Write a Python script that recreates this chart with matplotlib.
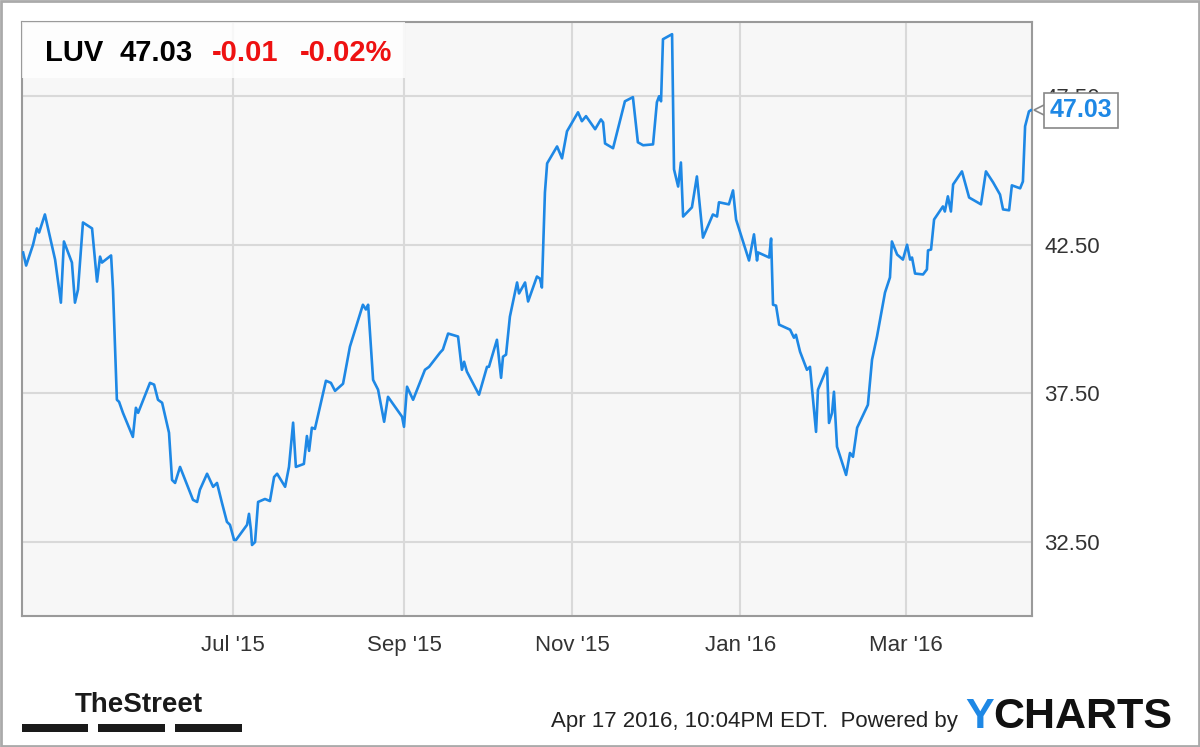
import pandas as pd
import matplotlib
matplotlib.use("Agg")
import matplotlib.pyplot as plt
import matplotlib.dates as mdates
import matplotlib.transforms as mtransforms
from matplotlib.patches import Rectangle

plt.rcParams['font.family'] = ['Liberation Sans', 'DejaVu Sans']

# LUV closing prices, Apr 2015 - Apr 2016
# days = calendar days counted from the start date below
start = pd.Timestamp("2015-04-15 12:00")
days = [
    0.4, 1.5, 4.0, 5.4, 6.2, 8.3, 12.0, 14.1, 15.2, 18.1, 19.2, 20.3, 22.1, 25.4,
    27.2, 28.3, 29.0, 32.3, 33.0, 34.4, 35.2, 36.6, 40.2, 41.3, 42.1, 46.4, 47.9,
    49.3, 50.8, 53.3, 54.4, 55.5, 57.3, 62.0, 63.5, 64.5, 67.1, 69.3, 70.7, 72.5,
    74.3, 75.4, 76.9, 77.6, 81.6, 82.3, 83.0, 83.4, 84.5, 85.6, 88.1, 89.9, 91.4,
    92.5, 95.4, 96.8, 98.3, 99.3, 102.2, 103.3, 104.1, 105.1, 106.2, 110.2, 112.0,
    113.5, 116.4, 117.8, 118.9, 123.6, 124.7, 125.5, 127.3, 129.1, 131.3, 132.7,
    137.8, 138.5, 139.6, 141.8, 146.1, 147.6, 151.6, 152.6, 154.5, 158.1, 159.5,
    160.3, 161.3, 165.7, 168.6, 169.3, 172.2, 173.7, 174.4, 175.5, 176.9, 179.5,
    180.2, 182.4, 183.5, 186.7, 187.8, 188.5, 189.6, 190.4, 194.0, 195.8, 197.6,
    201.6, 203.0, 204.5, 207.8, 209.9, 210.7, 211.4, 214.3, 218.6, 221.5, 223.3,
    225.2, 228.8, 230.2, 231.0, 231.7, 232.4, 235.7, 236.4, 237.9, 238.9, 239.7,
    242.9, 244.7, 246.9, 250.5, 252.0, 252.7, 256.3, 257.8, 258.9, 263.6, 265.4,
    266.5, 266.9, 270.9, 271.6, 272.3, 273.4, 274.5, 278.5, 279.9, 280.6, 282.1,
    284.6, 285.7, 287.9, 288.6, 291.9, 292.6, 293.7, 294.4, 295.5, 298.8, 300.2,
    301.3, 302.8, 306.7, 308.2, 310.0, 312.9, 314.7, 315.4, 317.3, 319.4, 320.9,
    322.0, 322.7, 323.8, 326.7, 328.1, 328.5, 329.6, 330.7, 333.9, 334.6, 335.7,
    336.8, 337.6, 340.8, 343.4, 347.7, 349.5, 352.1, 354.6, 355.7, 357.9, 358.9,
    361.9, 362.9, 363.7, 365.1, 365.8,
]
prices = [
    42.24, 41.80, 42.50, 43.05, 42.91, 43.52, 42.00, 40.55, 42.61, 41.90, 40.55,
    40.99, 43.25, 43.05, 41.26, 42.10, 41.90, 42.14, 40.99, 37.28, 37.21, 36.84,
    36.03, 37.01, 36.84, 37.85, 37.79, 37.28, 37.18, 36.17, 34.58, 34.48, 35.02,
    33.91, 33.84, 34.25, 34.79, 34.35, 34.48, 33.81, 33.17, 33.07, 32.56, 32.56,
    33.07, 33.44, 32.90, 32.39, 32.49, 33.84, 33.94, 33.87, 34.68, 34.79, 34.35,
    35.02, 36.51, 35.02, 35.12, 36.06, 35.56, 36.34, 36.30, 37.92, 37.85, 37.58,
    37.82, 38.53, 39.07, 40.48, 40.32, 40.48, 37.95, 37.62, 36.54, 37.38, 36.71,
    36.37, 37.72, 37.28, 38.29, 38.39, 38.87, 38.97, 39.51, 39.41, 38.29, 38.56,
    38.23, 37.45, 38.39, 38.39, 39.30, 38.02, 38.73, 38.80, 40.08, 41.23, 40.86,
    41.23, 40.59, 41.43, 41.36, 41.06, 44.26, 45.24, 45.81, 45.41, 46.32, 46.96,
    46.66, 46.83, 46.39, 46.72, 46.62, 45.91, 45.75, 47.33, 47.47, 45.95, 45.85,
    45.88, 47.30, 47.50, 47.33, 49.42, 49.59, 45.04, 44.46, 45.27, 43.45, 43.76,
    44.80, 42.74, 43.52, 43.45, 43.93, 43.86, 44.33, 43.35, 41.97, 42.85, 41.97,
    42.24, 42.07, 42.71, 40.48, 40.45, 39.81, 39.64, 39.37, 39.47, 38.90, 38.29,
    38.39, 36.20, 37.62, 38.36, 36.50, 36.84, 37.55, 35.70, 34.75, 35.49, 35.36,
    36.34, 37.11, 38.63, 39.41, 40.89, 41.40, 42.61, 42.17, 42.00, 42.50, 42.00,
    42.07, 41.53, 41.50, 41.67, 42.31, 42.34, 43.35, 43.79, 43.62, 44.13, 43.62,
    44.53, 44.97, 44.09, 43.86, 44.97, 44.60, 44.19, 43.69, 43.66, 44.50, 44.40,
    44.63, 46.49, 46.99, 47.03,
]
tick_dates = ["2015-07-01", "2015-09-01", "2015-11-01", "2016-01-01", "2016-03-01"]
price_ticks = [32.5, 37.5, 42.5, 47.5]

ticker = "LUV"
last_price = "47.03"
change = "-0.01"
change_pct = "-0.02%"
stamp = "Apr 17 2016, 10:04PM EDT.  Powered by"

line_blue = "#1e88e5"
grid_gray = "#d9d9d9"
frame_gray = "#9a9a9a"

dates = start + pd.to_timedelta(days, unit="D")

fig = plt.figure(figsize=(12, 7.47), dpi=100)
W, H = 1200, 747
ax = fig.add_axes([22 / W, 1 - 616 / H, 1010 / W, 594 / H])
ax.set_facecolor("#f7f7f7")

ax.plot(dates, prices, color=line_blue, lw=1.9, zorder=3)

ax.set_xlim(start, start + pd.Timedelta(days=366.2))
ax.set_ylim(30, 50)

ax.set_xticks(pd.to_datetime(tick_dates))
ax.xaxis.set_major_formatter(mdates.DateFormatter("%b '%y"))
ax.set_yticks(price_ticks)
ax.set_yticklabels([f"{p:.2f}" for p in price_ticks])
ax.yaxis.tick_right()
ax.tick_params(axis="both", length=0, labelsize=16, labelcolor="#333333")
ax.tick_params(axis="x", pad=14)
ax.tick_params(axis="y", pad=9)
ax.grid(True, color=grid_gray, lw=1.5)
ax.set_axisbelow(True)
for sp in ax.spines.values():
    sp.set_color(frame_gray)
    sp.set_linewidth(1.5)

# header box with ticker and quote
ax.add_patch(Rectangle((0, 1 - 56 / 594), 383 / 1010, 56 / 594, transform=ax.transAxes,
                       fc="white", ec="none", alpha=0.8, zorder=4))
hy = (616 - 61) / 594
hdr = dict(transform=ax.transAxes, fontsize=21, fontweight="bold", va="baseline", zorder=5)
ax.text(23 / 1010, hy, ticker, color="black", **hdr)
ax.text(98 / 1010, hy, last_price, color="black", **hdr)
ax.text(190 / 1010, hy, change, color="#ee1111", **hdr)
ax.text(278 / 1010, hy, change_pct, color="#ee1111", **hdr)

# last price flag on the right axis
trans = mtransforms.blended_transform_factory(ax.transAxes, ax.transData)
ax.plot([1020 / 1010], [prices[-1]], marker="<", ms=11, mfc="white", mec="#888888",
        mew=1.2, transform=trans, clip_on=False, zorder=6)
ax.text(1059 / 1010, prices[-1], last_price, transform=trans, fontsize=18,
        fontweight="bold", color=line_blue, va="center", ha="center", zorder=7,
        bbox=dict(boxstyle="square,pad=0.22", fc="white", ec="#888888", lw=1.2))

# footer
fig.text(75 / W, 1 - 712 / H, "TheStreet", fontsize=20, fontweight="bold",
         color="#1a1a1a", va="baseline")
for x0, x1 in [(22, 88), (98, 165), (175, 242)]:
    fig.patches.append(Rectangle((x0 / W, 1 - 732 / H), (x1 - x0) / W, 8 / H,
                                 transform=fig.transFigure, fc="#1a1a1a", ec="none"))

fig.text(958 / W, 1 - 727 / H, stamp, fontsize=16, color="#222222",
         ha="right", va="baseline")
ty = fig.text(965 / W, 1 - 728 / H, "Y", fontsize=31, fontweight="bold",
              color=line_blue, va="baseline")
plt.annotate("CHARTS", xy=(1, 0), xycoords=ty, fontsize=31, fontweight="bold",
             color="#111111", va="bottom", ha="left", annotation_clip=False)

# outer border
fig.patches.append(Rectangle((0.001, 0.001), 0.998, 0.997, transform=fig.transFigure,
                             fc="none", ec="#aaaaaa", lw=2))

fig.savefig("out.png", dpi=100)
